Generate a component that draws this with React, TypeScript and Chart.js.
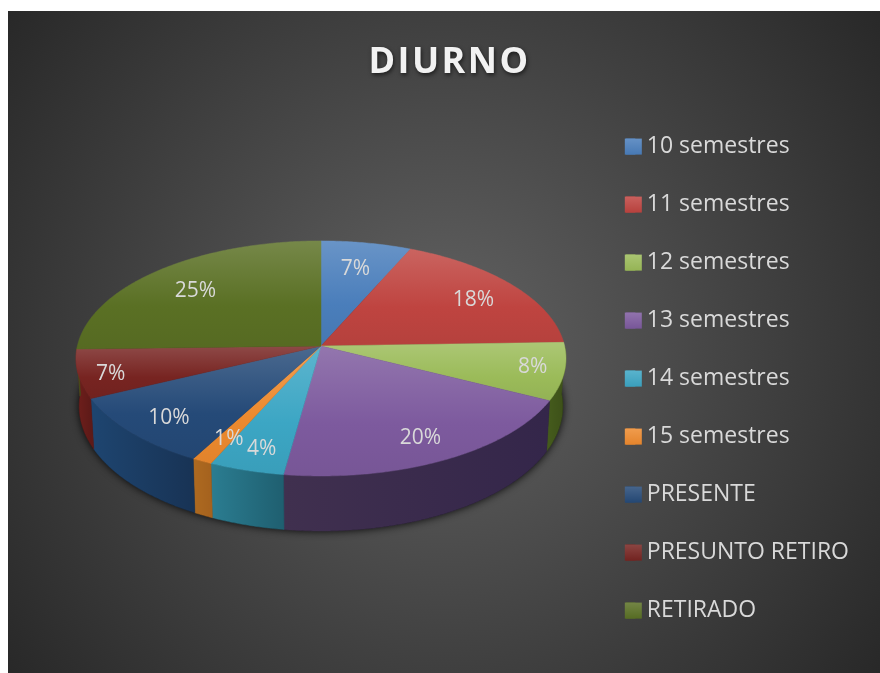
import React, { useEffect, useRef } from "react";
import { Chart, registerables } from "chart.js";

Chart.register(...registerables);

const categories = ["10 semestres", "11 semestres", "12 semestres", "13 semestres", "14 semestres", "15 semestres", "PRESENTE", "PRESUNTO RETIRO", "RETIRADO"];
const percents = [6.6, 17.9, 7.9, 19.8, 4.49, 1.2, 10, 6.7, 25.41];
const topColors = ["#4a7ebb", "#bf4440", "#9bbb59", "#7d5a9e", "#3ca6c4", "#ed8a2e", "#254a78", "#772421", "#5a7024"];
const sideLeft = ["#274a75", "#6b2a28", "#445a1c", "#40304f", "#2b7d91", "#ae6a20", "#1e4570", "#701f1c", "#3f5218"];
const sideRight = ["#274a75", "#6b2a28", "#3c4f18", "#34264a", "#1f5f70", "#a5621e", "#183355", "#5e1a18", "#3f5218"];
const labelRx = [0.74, 0.79, 0.874, 0.81, 0.81, 0.79, 0.81, 0.867, 0.76];
const labelRy = [0.75, 0.78, 0.76, 0.81, 0.83, 0.81, 0.826, 0.95, 0.745];

const FONT = "'Open Sans', sans-serif";
const CX = 313, CY = 335, R = 243.6, A = 116.2, P = 0.106;

function proj(u: number, v: number) {
  const d = 1 - P * v;
  return { x: CX + (R * u) / d, y: CY + (A * v) / d };
}
function rim(t: number) {
  return proj(Math.cos(t), Math.sin(t));
}
function lowerRim(t: number) {
  const p = rim(t);
  const v = Math.sin(t);
  return { x: CX + 0.987 * (p.x - CX), y: p.y + 47 + 8 * v };
}
function mix(hex: string, target: number, f: number) {
  const n = parseInt(hex.slice(1), 16);
  const c = [n >> 16, (n >> 8) & 255, n & 255].map((k) => Math.round(k + (target - k) * f));
  return `rgb(${c[0]},${c[1]},${c[2]})`;
}
function samples(a: number, b: number) {
  const n = Math.max(2, Math.ceil((b - a) / 0.01));
  const out: number[] = [];
  for (let i = 0; i <= n; i++) out.push(a + ((b - a) * i) / n);
  return out;
}

const pie3d = {
  id: "pie3d",
  beforeDraw(chart: any) {
    const { ctx, width, height } = chart;
    const g = ctx.createRadialGradient(width / 2, height / 2, 0, width / 2, height / 2, 550);
    g.addColorStop(0, "#626262");
    g.addColorStop(1, "#282828");
    ctx.save();
    ctx.fillStyle = g;
    ctx.fillRect(0, 0, width, height);
    ctx.restore();
    const tb = chart.titleBlock;
    if (tb && !tb.__patched) {
      tb.__patched = true;
      const orig = tb.draw;
      tb.draw = function () {
        const c = this.ctx;
        c.save();
        c.translate(16, 0);
        c.letterSpacing = "2.4px";
        c.shadowColor = "rgba(0,0,0,0.6)";
        c.shadowBlur = 4;
        c.shadowOffsetX = 1;
        c.shadowOffsetY = 2;
        orig.call(this);
        c.restore();
      };
    }
  },
  beforeDatasetsDraw(chart: any) {
    const { ctx } = chart;
    const arcs = chart.getDatasetMeta(0).data;
    ctx.save();
    ctx.save();
    ctx.shadowColor = "rgba(0,0,0,0.95)";
    ctx.shadowBlur = 9;
    ctx.fillStyle = "#111";
    ctx.beginPath();
    samples(0, Math.PI * 2).forEach((t, i) => {
      const p = lowerRim(t);
      if (i) ctx.lineTo(p.x, p.y);
      else ctx.moveTo(p.x, p.y);
    });
    ctx.closePath();
    ctx.fill();
    ctx.restore();
    arcs.forEach((arc: any, i: number) => {
      const ts = samples(arc.startAngle, arc.endAngle).filter((t) => Math.sin(t) >= 0);
      if (ts.length < 2) return;
      const a = ts.map(rim);
      const b = ts.map(lowerRim).reverse();
      const xs = a.map((p) => p.x);
      const g = ctx.createLinearGradient(Math.min(...xs), 0, Math.max(...xs), 0);
      g.addColorStop(0, sideLeft[i]);
      g.addColorStop(1, sideRight[i]);
      ctx.fillStyle = g;
      ctx.strokeStyle = g;
      ctx.lineWidth = 0.5;
      ctx.beginPath();
      [...a, ...b].forEach((p, k) => (k ? ctx.lineTo(p.x, p.y) : ctx.moveTo(p.x, p.y)));
      ctx.closePath();
      ctx.fill();
      ctx.stroke();
    });
    arcs.forEach((arc: any, i: number) => {
      const pts = samples(arc.startAngle, arc.endAngle).map(rim);
      const ys = [CY, ...pts.map((p) => p.y)];
      const g = ctx.createLinearGradient(0, Math.min(...ys), 0, Math.max(...ys));
      g.addColorStop(0, mix(topColors[i], 255, 0.17));
      g.addColorStop(0.6, topColors[i]);
      g.addColorStop(1, mix(topColors[i], 0, 0.05));
      ctx.fillStyle = g;
      ctx.strokeStyle = g;
      ctx.lineWidth = 0.5;
      ctx.beginPath();
      ctx.moveTo(CX, CY);
      pts.forEach((p) => ctx.lineTo(p.x, p.y));
      ctx.closePath();
      ctx.fill();
      ctx.stroke();
    });
    ctx.fillStyle = "#d9d9d9";
    ctx.font = `21px ${FONT}`;
    ctx.textAlign = "center";
    ctx.textBaseline = "middle";
    arcs.forEach((arc: any, i: number) => {
      const mid = (arc.startAngle + arc.endAngle) / 2;
      const p = proj(Math.cos(mid) * labelRx[i], Math.sin(mid) * labelRy[i]);
      ctx.fillText(`${Math.round(percents[i])}%`, p.x, p.y + 2);
    });
    ctx.restore();
    return false;
  },
  afterDraw(chart: any) {
    const { ctx } = chart;
    const boxes = chart.legend?.legendHitBoxes || [];
    boxes.forEach((h: any, i: number) => {
      const top = h.top + (h.height - 16) / 2;
      const g = ctx.createLinearGradient(0, top, 0, top + 16);
      g.addColorStop(0, mix(topColors[i], 255, 0.15));
      g.addColorStop(1, mix(topColors[i], 0, 0.04));
      ctx.fillStyle = g;
      ctx.fillRect(h.left - 1, top, 17, 16);
    });
  },
};

export default function App() {
  const ref = useRef<HTMLCanvasElement>(null);
  useEffect(() => {
    const chart = new Chart(ref.current as HTMLCanvasElement, {
      type: "pie",
      data: {
        labels: categories,
        datasets: [{ data: percents, backgroundColor: topColors, borderWidth: 0 }],
      },
      options: {
        responsive: false,
        animation: false,
        layout: { padding: { top: 30, right: 21, bottom: 0, left: 0 } },
        plugins: {
          title: {
            display: true,
            text: "DIURNO",
            color: "#f2f2f2",
            font: { family: FONT, size: 36, weight: "bold" },
            padding: { top: 0, bottom: 0 },
          },
          legend: {
            position: "right",
            fullSize: false,
            labels: {
              color: "#d9d9d9",
              font: { family: FONT, size: 23 },
              boxWidth: 9.5,
              boxHeight: 16,
              padding: 35,
            },
          },
          tooltip: { enabled: false },
        },
      },
      plugins: [pie3d],
    } as any);
    return () => chart.destroy();
  }, []);
  return (
    <canvas
      ref={ref}
      width={872}
      height={662}
      style={{ position: "absolute", left: 8, top: 11, width: 872, height: 662 }}
    />
  );
}
